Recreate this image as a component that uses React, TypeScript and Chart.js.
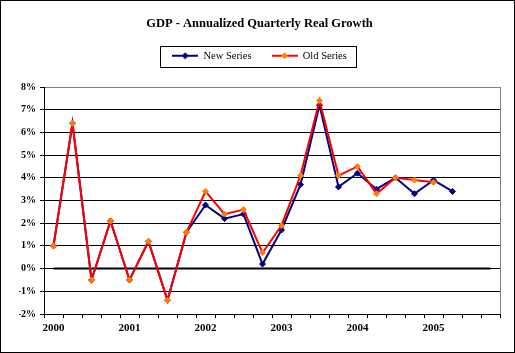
import React, { useEffect, useRef } from 'react';
import { Chart, registerables } from 'chart.js';

Chart.register(...registerables);

const TITLE = 'GDP - Annualized Quarterly Real Growth';

const quarters = [
  '2000Q1', '2000Q2', '2000Q3', '2000Q4',
  '2001Q1', '2001Q2', '2001Q3', '2001Q4',
  '2002Q1', '2002Q2', '2002Q3', '2002Q4',
  '2003Q1', '2003Q2', '2003Q3', '2003Q4',
  '2004Q1', '2004Q2', '2004Q3', '2004Q4',
  '2005Q1', '2005Q2', '2005Q3', '2005Q4',
];

const xTickLabels = [
  '2000', '', '', '',
  '2001', '', '', '',
  '2002', '', '', '',
  '2003', '', '', '',
  '2004', '', '', '',
  '2005', '', '', '',
];

const newSeries = [
  1.0, 6.4, -0.5, 2.1,
  -0.5, 1.2, -1.4, 1.6,
  2.8, 2.2, 2.4, 0.2,
  1.7, 3.7, 7.2, 3.6,
  4.2, 3.5, 4.0, 3.3,
  3.9, 3.4, null, null,
];

const oldSeries = [
  1.0, 6.4, -0.5, 2.1,
  -0.5, 1.2, -1.4, 1.6,
  3.4, 2.4, 2.6, 0.7,
  1.9, 4.1, 7.4, 4.1,
  4.5, 3.3, 4.0, 3.9,
  3.8, null, null, null,
];

const zeroLine = [
  0, 0, 0, 0, 0, 0, 0, 0, 0, 0, 0, 0,
  0, 0, 0, 0, 0, 0, 0, 0, 0, 0, 0, 0,
];

const Y_MIN = -2;
const Y_MAX = 8;
const Y_STEP = 1;

const FONT = "'Liberation Serif', 'Times New Roman', serif";

function makeIcon(lineColor: string, markColor: string) {
  const c = document.createElement('canvas');
  c.width = 26;
  c.height = 8;
  const g = c.getContext('2d')!;
  g.strokeStyle = lineColor;
  g.lineWidth = 2;
  g.beginPath();
  g.moveTo(0, 4);
  g.lineTo(26, 4);
  g.stroke();
  g.fillStyle = markColor;
  g.beginPath();
  g.moveTo(13, 0.5);
  g.lineTo(16.5, 4);
  g.lineTo(13, 7.5);
  g.lineTo(9.5, 4);
  g.closePath();
  g.fill();
  return c;
}

export default function App() {
  const ref = useRef<HTMLCanvasElement | null>(null);

  useEffect(() => {
    document.body.style.margin = '0';
    const canvas = ref.current;
    if (!canvas) return;
    const icons: Record<number, HTMLCanvasElement> = {
      0: makeIcon('#000080', '#000080'),
      1: makeIcon('#FF0000', '#FF8000'),
    };

    const framePlugin = {
      id: 'frameLines',
      beforeDatasetsDraw(chart: any) {
        const { ctx, chartArea } = chart;
        const x = Math.round(chartArea.right) + 0.5;
        ctx.save();
        ctx.strokeStyle = '#808080';
        ctx.lineWidth = 1;
        ctx.beginPath();
        ctx.moveTo(x, chartArea.top);
        ctx.lineTo(x, chartArea.bottom);
        ctx.stroke();
        ctx.restore();
      },
    };

    const legendBox = {
      id: 'legendBox',
      afterDraw(chart: any) {
        const hb = chart.legend && chart.legend.legendHitBoxes;
        if (!hb || !hb.length) return;
        const first = hb[0];
        const last = hb[hb.length - 1];
        const l = Math.round(first.left - 12) + 0.5;
        const r = Math.round(last.left + last.width + 9) + 0.5;
        const t = Math.round(first.top - 5) + 0.5;
        const b = t + 21;
        const ctx = chart.ctx;
        ctx.save();
        ctx.strokeStyle = '#000';
        ctx.lineWidth = 1;
        ctx.strokeRect(l, t, r - l, b - t);
        ctx.restore();
      },
    };

    const chart = new Chart(canvas, {
      type: 'line',
      data: {
        labels: quarters,
        datasets: [
          {
            label: 'New Series',
            data: newSeries,
            xAxisID: 'x',
            borderColor: '#000080',
            backgroundColor: '#000080',
            borderWidth: 2,
            pointStyle: 'rectRot',
            pointRadius: 3,
            pointBorderWidth: 1,
            pointBackgroundColor: '#000080',
            pointBorderColor: '#000080',
            tension: 0,
            spanGaps: false,
            order: 2,
          },
          {
            label: 'Old Series',
            data: oldSeries,
            xAxisID: 'x',
            borderColor: '#FF0000',
            backgroundColor: '#FF8000',
            borderWidth: 2,
            pointStyle: 'rectRot',
            pointRadius: 3,
            pointBorderWidth: 1,
            pointBackgroundColor: '#FF8000',
            pointBorderColor: '#FF8000',
            tension: 0,
            spanGaps: false,
            order: 1,
          },
          {
            label: 'zero',
            data: zeroLine,
            xAxisID: 'x',
            borderColor: '#000000',
            borderWidth: 2,
            pointRadius: 0,
            tension: 0,
            order: 3,
          },
        ],
      },
      options: {
        responsive: false,
        animation: false,
        devicePixelRatio: 1,
        layout: { padding: { left: 18, right: 14, top: 0, bottom: 0 } },
        plugins: {
          tooltip: { enabled: false },
          title: {
            display: true,
            text: TITLE,
            color: '#000',
            font: { family: FONT, size: 12.5, weight: 'bold', lineHeight: 1 },
            padding: { top: 17, bottom: 0 },
          },
          legend: {
            display: true,
            position: 'top',
            labels: {
              usePointStyle: true,
              pointStyleWidth: 26,
              padding: 20,
              color: '#000',
              font: { family: FONT, size: 10.5, lineHeight: 1 },
              generateLabels: (ch: any) => {
                const items = (Chart.defaults as any).plugins.legend.labels.generateLabels(ch);
                return items
                  .filter((it: any) => it.datasetIndex !== 2)
                  .sort((a: any, b: any) => a.datasetIndex - b.datasetIndex)
                  .map((it: any) => ({ ...it, pointStyle: icons[it.datasetIndex] }));
              },
            },
          },
        },
        scales: {
          x: {
            type: 'category',
            position: 'bottom',
            offset: true,
            grid: {
              display: true,
              drawOnChartArea: false,
              drawTicks: true,
              tickLength: 4,
              color: '#000',
              offset: true,
            },
            border: { display: true, color: '#000', width: 1 },
            ticks: {
              autoSkip: false,
              maxRotation: 0,
              padding: 4,
              color: '#000',
              font: { family: FONT, size: 11, weight: 'bold' },
              callback: (_v: any, i: number) => xTickLabels[i],
            },
            afterFit: (s: any) => {
              s.height = 38;
            },
          },
          xTop: {
            type: 'category',
            position: 'top',
            display: true,
            grid: { display: false },
            border: { display: false },
            ticks: { display: false },
            afterFit: (s: any) => {
              s.height = 16;
            },
          },
          y: {
            min: Y_MIN,
            max: Y_MAX,
            ticks: {
              stepSize: Y_STEP,
              padding: 4,
              color: '#000',
              font: { family: FONT, size: 10, weight: 'bold' },
              callback: (v: any) => v + '%',
            },
            grid: {
              color: (c: any) => (c.tick && c.tick.value === Y_MAX ? '#808080' : '#000'),
              lineWidth: 1,
              drawTicks: true,
              tickLength: 4,
              tickColor: '#000',
            },
            border: { display: true, color: '#000', width: 1 },
            afterFit: (s: any) => {
              s.width = 25;
            },
          },
        },
      } as any,
      plugins: [framePlugin, legendBox],
    });

    return () => {
      chart.destroy();
    };
  }, []);

  return (
    <div
      style={{
        position: 'relative',
        width: 515,
        height: 353,
        border: '1px solid #000',
        boxSizing: 'border-box',
        background: '#fff',
      }}
    >
      <canvas ref={ref} width={513} height={351} style={{ display: 'block' }} />
    </div>
  );
}
